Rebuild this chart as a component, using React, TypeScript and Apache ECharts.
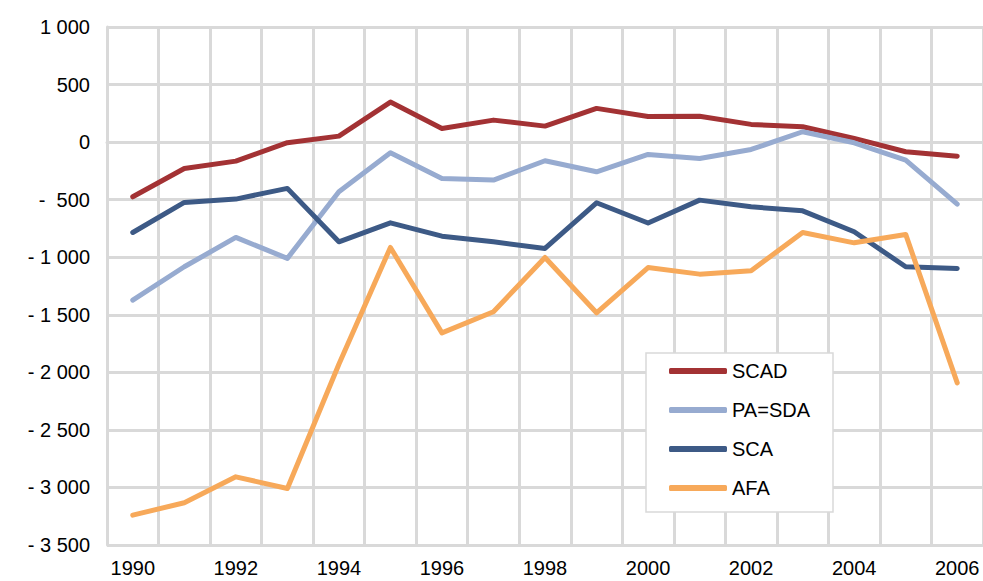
import React, { useEffect, useRef } from "react";
import * as echarts from "echarts";

const years = ["1990","1991","1992","1993","1994","1995","1996","1997","1998","1999","2000","2001","2002","2003","2004","2005","2006"];
const scad = [-475, -229, -165, -5, 52, 348, 119, 191, 139, 293, 223, 224, 154, 133, 32, -84, -122];
const paSda = [-1373, -1083, -828, -1010, -432, -93, -316, -330, -162, -258, -107, -142, -64, 90, -6, -156, -539];
const sca = [-785, -524, -495, -402, -866, -701, -817, -866, -924, -527, -703, -504, -562, -597, -779, -1083, -1098];
const afa = [-3241, -3133, -2908, -3009, -1930, -915, -1657, -1474, -1002, -1483, -1090, -1147, -1118, -785, -875, -802, -2091];

const seriesNames = ["SCAD", "PA=SDA", "SCA", "AFA"];
const seriesColors = ["#a33234", "#97abd0", "#3d5a86", "#f7a95a"];

const FONT = "'Liberation Sans', Arial, sans-serif";

function fmtNum(v: number): string {
  const a = Math.abs(v);
  const s = String(a).replace(/\B(?=(\d{3})+(?!\d))/g, " ");
  if (v < 0) return a >= 1000 ? "- " + s : "-  " + s;
  return s;
}

export default function App() {
  const ref = useRef<HTMLDivElement>(null);
  useEffect(() => {
    if (!ref.current) return;
    const chart = echarts.init(ref.current, null, { renderer: "svg" });
    const data = [scad, paSda, sca, afa];
    chart.setOption({
      animation: false,
      backgroundColor: "#ffffff",
      textStyle: { fontFamily: FONT },
      grid: { left: 107, top: 27, width: 877, bottom: 36, containLabel: false },
      legend: {
        orient: "vertical",
        left: 646,
        top: 353,
        data: seriesNames.map((n) => ({ name: n, icon: "roundRect" })),
        itemWidth: 58,
        itemHeight: 6,
        itemGap: 19,
        padding: [8, 23, 14, 23],
        backgroundColor: "#ffffff",
        borderColor: "#d9d9d9",
        borderWidth: 1.5,
        itemStyle: { borderWidth: 0 },
        textStyle: { fontFamily: FONT, fontSize: 20, color: "#000", lineHeight: 20, padding: [0, 0, 0, 0] },
      },
      xAxis: {
        type: "category",
        data: years,
        boundaryGap: true,
        axisLine: { show: true, lineStyle: { color: "#d9d9d9", width: 3 } },
        axisTick: { show: false },
        axisLabel: { interval: 1, margin: 13, fontSize: 20, color: "#000", fontFamily: FONT },
        splitLine: { show: true, interval: 0, lineStyle: { color: "#d9d9d9", width: 3 } },
      },
      yAxis: {
        type: "value",
        min: -3500,
        max: 1000,
        interval: 500,
        axisLine: { show: true, lineStyle: { color: "#d9d9d9", width: 3 } },
        axisTick: { show: false },
        axisLabel: { margin: 17, fontSize: 20, color: "#000", fontFamily: FONT, formatter: (v: number) => fmtNum(v) },
        splitLine: { show: true, lineStyle: { color: "#d9d9d9", width: 3 } },
      },
      series: seriesNames.map((name, i) => ({
        name,
        type: "line",
        data: data[i],
        symbol: "none",
        showSymbol: false,
        color: seriesColors[i],
        itemStyle: { color: seriesColors[i] },
        lineStyle: { color: seriesColors[i], width: 5, cap: "round", join: "round" },
        z: 3,
      })),
    });
    return () => chart.dispose();
  }, []);
  return <div ref={ref} style={{ width: 983, height: 581, position: "absolute", left: 0, top: 0 }} />;
}
